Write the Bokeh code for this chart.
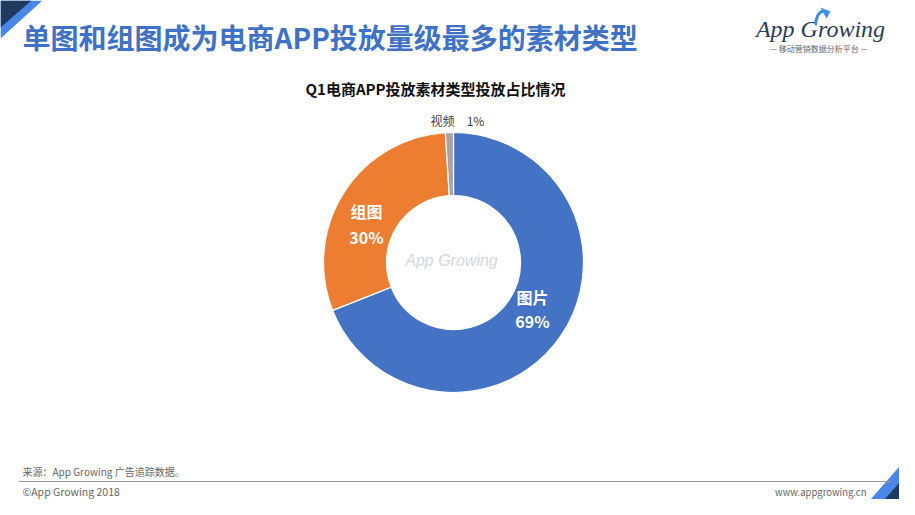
import numpy as np
from bokeh.plotting import figure
from bokeh.models import Range1d, ColumnDataSource
from bokeh.core.properties import value
from bokeh.embed import file_html
from bokeh.resources import INLINE

# ---- data ----
categories = ["图片", "组图", "视频"]
shares = [69, 30, 1]
colors = ["#4472C4", "#ED7D31", "#A5A5A5"]
main_title = "单图和组图成为电商APP投放量级最多的素材类型"
chart_title = "Q1电商APP投放素材类型投放占比情况"
source_note = "来源：App Growing 广告追踪数据。"
copyright_note = "©App Growing 2018"
site = "www.appgrowing.cn"

W, H = 915, 515
FONT = value("Noto Sans CJK SC")

def Y(sy):
    return H - sy

p = figure(width=899, height=499, output_backend="svg", toolbar_location=None,
           x_range=Range1d(0, 899), y_range=Range1d(H - 499, H), min_border=0)
p.axis.visible = False
p.grid.visible = False
p.outline_line_color = None
p.background_fill_color = "white"
p.border_fill_color = "white"

# corner decorations
p.patch([0, 42, 0], [Y(0), Y(0), Y(38)], color="#4A86E8", line_color=None)
p.patch([0, 31, 0], [Y(0), Y(0), Y(27)], color="#1F3A60", line_color=None)
p.patch([899, 899, 870], [Y(466), Y(499), Y(499)], color="#4A86E8", line_color=None)
p.patch([899, 899, 884], [Y(482), Y(499), Y(499)], color="#1F3A60", line_color=None)

# main title
p.text(x=[22], y=[Y(36)], text=[main_title], text_font=FONT, text_font_style="bold",
       text_font_size="28px", text_color="#3F72C6", text_baseline="middle", text_align="left")

# logo
p.text(x=[820], y=[Y(28)], text=["App Growing"], text_font=value("Liberation Serif"),
       text_font_style="italic", text_font_size="24px", text_color="#2C3A57",
       text_baseline="middle", text_align="center")
p.bezier(x0=[815], y0=[Y(24)], x1=[824], y1=[Y(11)], cx0=[816], cy0=[Y(14)], cx1=[820], cy1=[Y(10)],
         line_color="#3E8EDE", line_width=3)
p.patch([820, 830, 826], [Y(7), Y(11), Y(18)], color="#3E8EDE", line_color=None)
p.text(x=[820], y=[Y(48)], text=["—  移动营销数据分析平台  —"], text_font=FONT,
       text_font_size="8px", text_color="#666666", text_baseline="middle", text_align="center")

# chart title
p.text(x=[435], y=[Y(88)], text=[chart_title], text_font=FONT, text_font_style="bold",
       text_font_size="15px", text_color="#111111", text_baseline="middle", text_align="center")

# donut
cx, cy = 453, Y(262)
frac = np.array(shares, dtype=float) / sum(shares)
cum = np.concatenate([[0], np.cumsum(frac)])
start = np.pi / 2 - 2 * np.pi * cum[:-1]
end = np.pi / 2 - 2 * np.pi * cum[1:]
src = ColumnDataSource(dict(cat=categories, start=start, end=end, color=colors))
p.annular_wedge(x=cx, y=cy, inner_radius=67, outer_radius=130, start_angle="start",
                end_angle="end", direction="clock", fill_color="color",
                line_color="white", line_width=1.2, source=src)

# watermark
p.text(x=[451], y=[Y(260)], text=["App Growing"], text_font=value("Liberation Sans"),
       text_font_style="italic", text_font_size="16px", text_color="#D3D8E0",
       text_baseline="middle", text_align="center")

# slice labels
lab_x = [532, 366]
lab_y1 = [Y(296), Y(210)]
lab_y2 = [Y(320), Y(236)]
p.text(x=lab_x, y=lab_y1, text=categories[:2], text_font=FONT, text_font_style="bold",
       text_font_size="16px", text_color="white", text_baseline="middle", text_align="center")
p.text(x=lab_x, y=lab_y2, text=[f"{v}%" for v in shares[:2]], text_font=FONT,
       text_font_style="bold", text_font_size="16px", text_color="white",
       text_baseline="middle", text_align="center")
p.text(x=[442], y=[Y(120)], text=[categories[2]], text_font=FONT, text_font_size="12px",
       text_color="#404040", text_baseline="middle", text_align="center")
p.text(x=[475], y=[Y(120)], text=[f"{shares[2]}%"], text_font=FONT, text_font_size="12px",
       text_color="#404040", text_baseline="middle", text_align="center")

# footer
p.text(x=[22], y=[Y(471)], text=[source_note], text_font=FONT, text_font_size="10px",
       text_color="#666666", text_baseline="middle", text_align="left")
p.line(x=[18, 890], y=[Y(481), Y(481)], line_color="#9A9A9A", line_width=1)
p.text(x=[22], y=[Y(491)], text=[copyright_note], text_font=FONT, text_font_size="10.5px",
       text_color="#666666", text_baseline="middle", text_align="left")
p.text(x=[866], y=[Y(491)], text=[site], text_font=FONT, text_font_size="9.5px",
       text_color="#666666", text_baseline="middle", text_align="right")

open("out.html", "w").write(file_html(p, INLINE))
